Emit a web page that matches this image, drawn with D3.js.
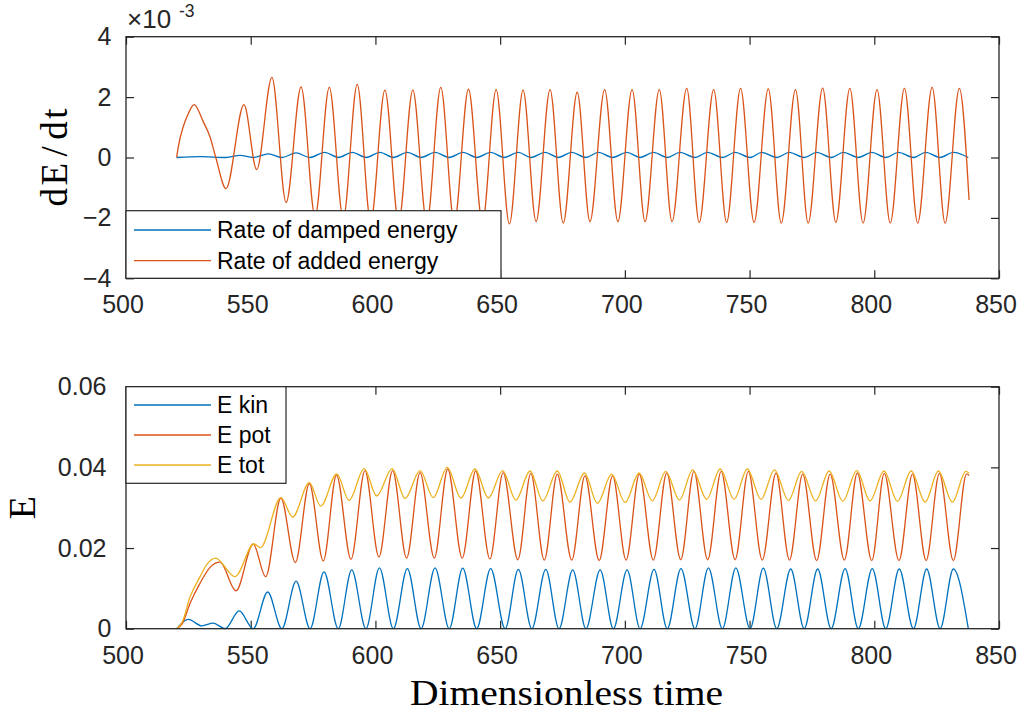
<!DOCTYPE html>
<html>
<head>
<meta charset="utf-8">
<script src="https://cdn.jsdelivr.net/npm/d3@7"></script>
<style>
  html, body { margin: 0; padding: 0; background: #fff; }
  svg { display: block; }
</style>
</head>
<body>
<svg id="chart" width="1035" height="715"></svg>
<script>
// ---- data ----------------------------------------------------------------
// Upper panel values are in units of 1e-3 (see the axis multiplier).
const timeTicks = [500, 550, 600, 650, 700, 750, 800, 850];
const rateTicks = [-4, -2, 0, 2, 4];
const energyTicks = [0, 0.02, 0.04, 0.06];
const energyTickLabels = ["0", "0.02", "0.04", "0.06"];

const rateSeriesNames = ["Rate of damped energy", "Rate of added energy"];
const energySeriesNames = ["E kin", "E pot", "E tot"];

// [time, dE/dt] — rate of damped energy
const rateDamped = [
  [520.3,0],[530.0,0.03],[540.1,0],[545.7,0.07],[551.0,0],[557.1,0.12],[562.4,0],
  [568.2,0.15],[573.8,0],[579.6,0.17],[585.2,0],[590.7,0.17],[596.3,0],[601.8,0.17],
  [607.2,0],[612.8,0.17],[618.3,0],[623.9,0.17],[629.6,0],[635.1,0.17],[640.6,0],
  [646.2,0.17],[651.6,0],[657.3,0.17],[662.4,0],[668.0,0.17],[673.3,0],[678.7,0.17],
  [684.3,0],[689.4,0.17],[695.1,0],[700.8,0.17],[706.1,0],[711.5,0.17],[717.0,0],
  [722.1,0.17],[728.1,0],[733.1,0.17],[739.1,0],[744.2,0.17],[750.2,0],[754.9,0.17],
  [760.9,0],[765.9,0.17],[771.9,0],[776.9,0.17],[782.7,0],[787.6,0.17],[793.6,0],
  [799.0,0.17],[804.6,0],[809.7,0.17],[815.7,0],[820.6,0.17],[826.4,0],[831.7,0.17],
  [837.7,0]
];

// [time, dE/dt] — rate of added energy
const rateAdded = [
  [520.3,0],[521.0,0.37],[522.9,1.01],[525.0,1.46],[527.3,1.75],[531.0,1.18],[533.7,0.68],
  [536.0,0.0],[540.1,-1.03],[547.3,1.75],[552.4,-0.40],[558.5,2.65],[564.2,-1.49],
  [570.2,2.34],[575.8,-1.95],[581.5,2.32],[587.1,-2.02],[592.7,2.42],[598.1,-2.12],
  [603.8,2.23],[609.3,-2.12],[615.0,2.23],[620.6,-2.15],[626.2,2.32],[631.6,-2.15],
  [637.3,2.26],[642.9,-2.15],[648.4,2.25],[653.7,-2.20],[659.2,2.23],[664.4,-2.12],
  [670.0,2.25],[675.3,-2.17],[680.9,2.16],[686.0,-2.12],[691.9,2.25],[697.2,-2.12],
  [702.9,2.25],[708.1,-2.12],[713.8,2.25],[718.9,-2.12],[724.8,2.29],[729.8,-2.15],
  [735.6,2.25],[740.8,-2.15],[746.4,2.29],[751.8,-2.15],[757.5,2.27],[762.7,-2.17],
  [768.4,2.25],[773.5,-2.17],[779.3,2.30],[784.6,-2.15],[790.2,2.29],[795.5,-2.17],
  [801.1,2.25],[806.4,-2.17],[812.1,2.29],[817.4,-2.17],[823.2,2.32],[828.4,-2.17],
  [834.1,2.29],[838.0,-1.41]
];

// [time, E] — kinetic energy
const eKin = [
  [520.3,0],[525.0,0.0023],[530.4,0.0007],[535.0,0.0014],[539.7,0],[545.4,0.0044],
  [551.0,0],[556.8,0.0091],[562.5,0],[568.2,0.0118],[573.8,0],[579.4,0.0141],[585.1,0],
  [590.5,0.0146],[596.2,0],[601.6,0.0151],[607.2,0],[612.8,0.0149],[618.3,0],
  [623.9,0.0151],[629.6,0],[635.0,0.0150],[640.6,0],[646.2,0.0149],[652.0,0],
  [657.3,0.0147],[662.7,0],[668.3,0.0147],[673.6,0],[679.1,0.0146],[684.4,0],
  [690.1,0.0146],[695.4,0],[700.9,0.0146],[706.1,0],[711.7,0.0147],[717.0,0],
  [722.5,0.0149],[728.1,0],[733.5,0.0151],[739.1,0],[744.5,0.0151],[750.2,0],
  [755.5,0.0150],[760.9,0],[766.5,0.0148],[771.9,0],[777.3,0.0148],[782.7,0],
  [788.3,0.0149],[793.6,0],[799.2,0.0149],[804.6,0],[810.0,0.0148],[815.7,0],
  [821.0,0.0148],[826.4,0],[831.7,0.0148],[837.7,0]
];

// [time, E] — potential energy
const ePot = [
  [520.3,0],[522.5,0.0012],[525.7,0.0063],[529.7,0.0113],[533.7,0.0152],[537.7,0.0165],
  [544.1,0.0094],[551.0,0.0210],[556.0,0.0129],[562.1,0.0324],[567.9,0.0164],
  [573.5,0.0360],[579.1,0.0168],[584.4,0.0381],[590.2,0.0172],[595.8,0.0392],
  [601.4,0.0178],[606.9,0.0392],[612.5,0.0175],[617.9,0.0387],[623.6,0.0175],
  [629.0,0.0396],[634.8,0.0175],[640.2,0.0391],[645.9,0.0173],[651.2,0.0387],
  [657.1,0.0171],[662.3,0.0385],[667.7,0.0170],[672.9,0.0383],[678.7,0.0170],
  [684.0,0.0379],[689.7,0.0169],[695.1,0.0379],[700.5,0.0170],[705.8,0.0383],
  [711.4,0.0170],[716.8,0.0386],[722.4,0.0171],[727.7,0.0390],[733.2,0.0171],
  [738.6,0.0390],[744.2,0.0171],[749.5,0.0390],[755.1,0.0170],[760.6,0.0386],
  [766.0,0.0170],[771.3,0.0383],[776.9,0.0169],[782.3,0.0383],[788.0,0.0170],
  [793.2,0.0386],[799.0,0.0169],[804.0,0.0385],[809.9,0.0169],[815.3,0.0383],
  [820.8,0.0169],[826.1,0.0385],[831.7,0.0169],[837.0,0.0384],[838.0,0.0380]
];

// [time, E] — total energy
const eTot = [
  [520.3,0],[522.5,0.0016],[525.7,0.0079],[529.7,0.0129],[532.5,0.0160],[535.9,0.0175],
  [543.7,0.0129],[551.3,0.0210],[553.9,0.0201],[562.1,0.0325],[566.8,0.0277],
  [573.5,0.0362],[578.1,0.0304],[584.5,0.0384],[589.4,0.0318],[595.5,0.0397],
  [600.5,0.0329],[606.7,0.0397],[611.9,0.0323],[617.9,0.0392],[623.2,0.0325],
  [628.8,0.0400],[634.3,0.0324],[639.9,0.0396],[645.3,0.0324],[651.0,0.0392],
  [656.3,0.0319],[662.0,0.0391],[667.1,0.0317],[672.9,0.0391],[678.0,0.0314],
  [683.8,0.0386],[689.0,0.0311],[694.7,0.0383],[700.1,0.0313],[705.7,0.0386],
  [711.0,0.0317],[716.4,0.0390],[721.9,0.0319],[727.2,0.0394],[732.8,0.0321],
  [738.2,0.0396],[743.8,0.0321],[749.1,0.0396],[754.6,0.0321],[760.0,0.0394],
  [765.6,0.0318],[770.9,0.0390],[776.5,0.0317],[781.9,0.0391],[787.4,0.0316],
  [793.0,0.0392],[798.3,0.0317],[803.9,0.0391],[809.3,0.0316],[814.8,0.0391],
  [820.4,0.0314],[825.7,0.0391],[831.3,0.0314],[836.7,0.0390],[838.0,0.0386]
];

// ---- drawing -------------------------------------------------------------
const COLORS = ["#0072BD", "#D95319", "#EDB120"];
const AXIS_COLOR = "#262626";
const TICK_FONT = "'Liberation Sans', Arial, Helvetica, sans-serif";
const LABEL_FONT = "'Liberation Serif', 'Times New Roman', serif";

const svg = d3.select("#chart");
svg.append("rect").attr("width", 1035).attr("height", 715).attr("fill", "#fff");

const x = d3.scaleLinear().domain([500, 850]).range([126, 999]);
const yRate = d3.scaleLinear().domain([-4, 4]).range([278.3, 36.7]);
const yEnergy = d3.scaleLinear().domain([0, 0.06]).range([628.7, 386.7]);

function styleAxis(g) {
  g.select(".domain").remove();
  g.selectAll(".tick line").attr("stroke", AXIS_COLOR).attr("stroke-width", 1.2);
  g.selectAll(".tick text")
    .attr("fill", AXIS_COLOR)
    .style("font-family", TICK_FONT)
    .style("font-size", "25px");
}

function drawFrame(y, top, bottom, yTicks, yFormat, xPad) {
  const left = x.range()[0], right = x.range()[1];
  svg.append("g").attr("transform", `translate(0,${bottom})`)
    .call(d3.axisBottom(x).tickValues(timeTicks).tickSize(-8).tickPadding(xPad).tickFormat(d3.format("d")))
    .call(styleAxis)
    .call(g => g.selectAll(".tick text").attr("dx", -3.5));
  svg.append("g").attr("transform", `translate(0,${top})`)
    .call(d3.axisTop(x).tickValues(timeTicks).tickSize(-8).tickFormat(""))
    .call(styleAxis);
  svg.append("g").attr("transform", `translate(${left},0)`)
    .call(d3.axisLeft(y).tickValues(yTicks).tickSize(-8).tickPadding(14.5).tickFormat(yFormat))
    .call(styleAxis)
    .call(g => g.selectAll(".tick text")
      .attr("dx", function () { return this.textContent.includes(".") ? -5 : 0; }));
  svg.append("g").attr("transform", `translate(${right},0)`)
    .call(d3.axisRight(y).tickValues(yTicks).tickSize(-8).tickFormat(""))
    .call(styleAxis);
}

function drawBox(top, bottom) {
  const left = x.range()[0], right = x.range()[1];
  svg.append("rect")
    .attr("x", left).attr("y", top)
    .attr("width", right - left).attr("height", bottom - top)
    .attr("fill", "none").attr("stroke", AXIS_COLOR).attr("stroke-width", 1.3);
}

function drawSeries(data, y, color) {
  const line = d3.line()
    .x(d => x(d[0]))
    .y(d => y(d[1]))
    .curve(d3.curveMonotoneX);
  svg.append("path")
    .datum(data)
    .attr("d", line)
    .attr("fill", "none")
    .attr("stroke", color)
    .attr("stroke-width", 1.3)
    .attr("stroke-linejoin", "round");
}

function drawLegend(names, colors, bx, by, bw, bh, firstY, step) {
  const g = svg.append("g");
  g.append("rect")
    .attr("x", bx).attr("y", by).attr("width", bw).attr("height", bh)
    .attr("fill", "#fff").attr("stroke", AXIS_COLOR).attr("stroke-width", 1.2);
  names.forEach((name, i) => {
    const ly = firstY + i * step;
    g.append("line")
      .attr("x1", bx + 8).attr("x2", bx + 85)
      .attr("y1", ly).attr("y2", ly)
      .attr("stroke", colors[i]).attr("stroke-width", 1.3);
    g.append("text")
      .attr("x", bx + 91).attr("y", ly + 8.3)
      .attr("fill", "#000")
      .style("font-family", TICK_FONT)
      .style("font-size", "23px")
      .text(name);
  });
}

// Upper panel: energy rates
drawFrame(yRate, 36.7, 278.3, rateTicks, d3.format("d"), 16.5);
drawSeries(rateDamped, yRate, COLORS[0]);
drawSeries(rateAdded, yRate, COLORS[1]);
drawBox(36.7, 278.3);
drawLegend(rateSeriesNames, COLORS, 126, 210.7, 375, 67.6, 230, 30.7);

// axis multiplier
svg.append("text").attr("x", 127).attr("y", 28.3)
  .attr("fill", AXIS_COLOR).style("font-family", TICK_FONT).style("font-size", "26px")
  .text("\u00d710");
svg.append("text").attr("x", 179).attr("y", 16.7)
  .attr("fill", AXIS_COLOR).style("font-family", TICK_FONT).style("font-size", "17.5px")
  .text("-3");

// y label "dE/dt", with a little extra room around the slash
const rateLabel = svg.append("text")
  .attr("transform", "translate(66.7,157.5) rotate(-90)")
  .attr("text-anchor", "middle")
  .attr("fill", "#000")
  .style("font-family", LABEL_FONT).style("font-size", "37px");
[["d", 0], ["E", 2.5], ["/", 6.5], ["d", 6.5], ["t", 2.5]].forEach(([ch, dx]) => {
  rateLabel.append("tspan").attr("dx", dx).text(ch);
});

// Lower panel: energies
drawFrame(yEnergy, 386.7, 628.7, energyTicks, (d, i) => energyTickLabels[i], 18);
drawSeries(eKin, yEnergy, COLORS[0]);
drawSeries(ePot, yEnergy, COLORS[1]);
drawSeries(eTot, yEnergy, COLORS[2]);
drawBox(386.7, 628.7);
drawLegend(energySeriesNames, COLORS, 126, 386.7, 160, 96.6, 405, 30);

svg.append("text")
  .attr("transform", "translate(35,507.7) rotate(-90)")
  .attr("text-anchor", "middle")
  .attr("fill", "#000")
  .style("font-family", LABEL_FONT).style("font-size", "38px")
  .text("E");

svg.append("text")
  .attr("x", 566.5).attr("y", 705)
  .attr("text-anchor", "middle")
  .attr("fill", "#000")
  .attr("textLength", 313).attr("lengthAdjust", "spacingAndGlyphs")
  .style("font-family", LABEL_FONT).style("font-size", "36px")
  .text("Dimensionless time");
</script>
</body>
</html>
